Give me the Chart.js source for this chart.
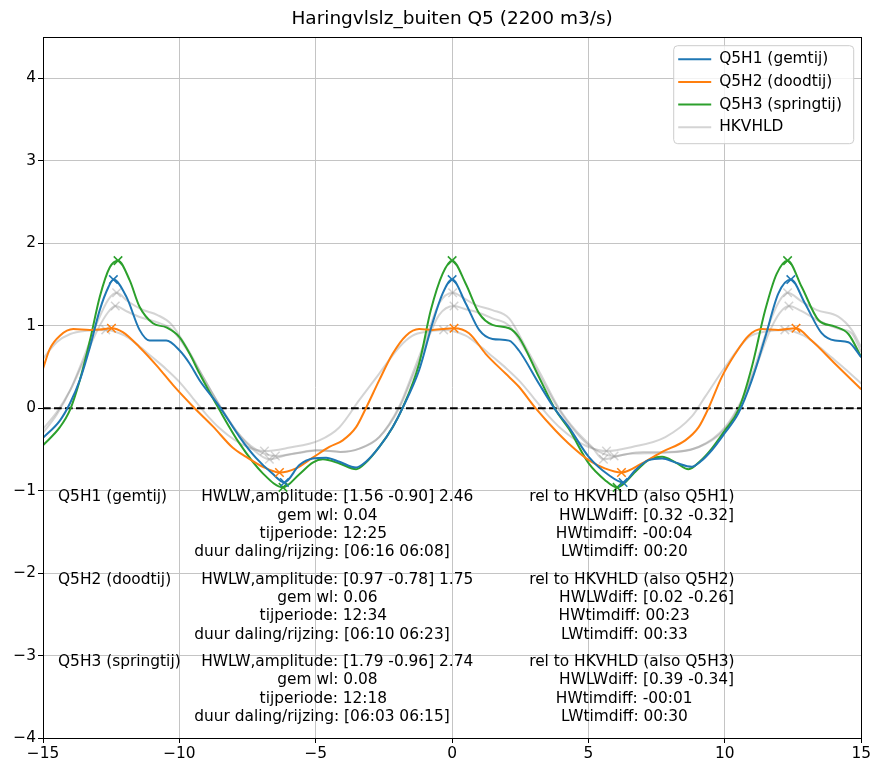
<!DOCTYPE html>
<html>
<head>
<meta charset="utf-8">
<title>Haringvlslz_buiten Q5</title>
<script src="https://cdn.jsdelivr.net/npm/chart.js@4.4.1/dist/chart.umd.min.js"></script>
<style>
  html, body { margin: 0; padding: 0; background: #fff; }
  canvas { display: block; }
</style>
</head>
<body>
<canvas id="tide-chart" width="873" height="765"></canvas>
<script>
// axes
const xTicks = [-15, -10, -5, 0, 5, 10, 15];
const yTicks = [-4, -3, -2, -1, 0, 1, 2, 3, 4];
const yTop = 4.5;

// time in hours relative to HW, water level in m
const timeQ5H1 = [-15, -14.38, -14.01, -13.65, -13.28, -12.92, -12.6, -12.42, -11.94, -11.46, -11.09, -10.48, -9.99, -9.62, -9.26, -8.53, -7.79, -7.2, -6.6, -6.15, -5.6, -5.11, -4.62, -4.13, -3.52, -3.16, -2.67, -2.18, -1.82, -1.21, -0.72, -0.35, 0, 0.5, 0.99, 1.48, 2.09, 2.45, 3.18, 3.79, 4.28, 5.01, 5.74, 6.27, 6.72, 7.2, 7.7, 8.2, 8.79, 9.1, 9.52, 10.0, 10.5, 10.99, 11.48, 11.96, 12.42, 12.94, 13.55, 14.04, 14.53, 15];
const wlQ5H1 = [-0.36, -0.15, 0.06, 0.34, 0.74, 1.19, 1.47, 1.56, 1.35, 0.95, 0.82, 0.82, 0.70, 0.54, 0.34, 0.02, -0.35, -0.60, -0.79, -0.90, -0.69, -0.61, -0.60, -0.65, -0.72, -0.65, -0.47, -0.23, 0.0, 0.46, 1.03, 1.39, 1.56, 1.27, 0.95, 0.84, 0.82, 0.70, 0.30, -0.02, -0.23, -0.59, -0.81, -0.90, -0.75, -0.63, -0.61, -0.66, -0.71, -0.65, -0.51, -0.30, -0.06, 0.34, 0.86, 1.39, 1.56, 1.27, 0.91, 0.82, 0.80, 0.62];

const timeQ5H2 = [-15, -14.75, -14.38, -13.89, -13.28, -12.92, -12.49, -12.06, -11.46, -10.84, -10.23, -9.44, -8.77, -8.04, -7.55, -6.94, -6.33, -5.72, -5.11, -4.5, -4.01, -3.52, -3.16, -2.67, -2.18, -1.69, -1.21, -0.72, 0.07, 0.62, 1.23, 1.96, 2.45, 3.06, 3.79, 4.28, 5.01, 5.6, 6.21, 6.96, 7.7, 8.55, 9.04, 9.4, 9.89, 10.38, 10.87, 11.35, 11.96, 12.61, 13.18, 14.04, 15];
const wlQ5H2 = [0.48, 0.72, 0.88, 0.96, 0.95, 0.955, 0.97, 0.92, 0.74, 0.52, 0.28, 0.0, -0.22, -0.48, -0.59, -0.71, -0.78, -0.73, -0.60, -0.47, -0.39, -0.23, 0.0, 0.34, 0.66, 0.88, 0.96, 0.95, 0.97, 0.91, 0.66, 0.42, 0.26, 0.0, -0.27, -0.43, -0.63, -0.73, -0.78, -0.67, -0.53, -0.39, -0.23, 0.0, 0.38, 0.66, 0.88, 0.96, 0.95, 0.97, 0.82, 0.54, 0.23];

const timeQ5H3 = [-15, -14.38, -14.01, -13.65, -13.28, -12.92, -12.55, -12.25, -11.82, -11.46, -10.97, -10.48, -9.99, -9.62, -9.26, -8.53, -7.79, -6.94, -6.2, -5.6, -5.11, -4.74, -4.13, -3.52, -3.16, -2.67, -2.18, -1.82, -1.21, -0.78, -0.35, 0, 0.5, 0.99, 1.48, 2.09, 2.45, 3.18, 3.79, 4.28, 5.01, 5.6, 6.05, 6.72, 7.2, 7.7, 8.2, 8.67, 9.1, 9.52, 10.0, 10.5, 10.99, 11.48, 11.9, 12.3, 12.82, 13.43, 14.04, 14.53, 15];
const wlQ5H3 = [-0.45, -0.23, -0.02, 0.34, 0.82, 1.35, 1.71, 1.79, 1.55, 1.23, 1.03, 0.98, 0.86, 0.66, 0.42, -0.02, -0.43, -0.79, -0.96, -0.80, -0.66, -0.62, -0.67, -0.74, -0.66, -0.47, -0.23, 0.0, 0.54, 1.19, 1.63, 1.79, 1.51, 1.15, 1.01, 0.97, 0.86, 0.38, -0.02, -0.25, -0.67, -0.87, -0.96, -0.77, -0.63, -0.59, -0.66, -0.74, -0.64, -0.49, -0.27, -0.02, 0.50, 1.19, 1.63, 1.79, 1.47, 1.07, 0.99, 0.90, 0.62];

// HKVHLD, one curve per tide
const timeRefH1 = [-15, -14.5, -14.0, -13.5, -13.0, -12.6, -12.35, -11.9, -11.4, -10.8, -10.3, -9.7, -9.1, -8.5, -7.9, -7.2, -6.48, -5.8, -5.0, -4.1, -3.4, -2.67, -1.94, -1.45, -0.96, -0.48, 0.07, 0.5, 0.87, 1.48, 2.09, 2.7, 3.3, 3.92, 4.53, 5.13, 5.94, 6.6, 7.82, 9.04, 10.01, 10.62, 11.1, 11.6, 12.0, 12.35, 12.8, 13.38, 14.2, 14.65, 15];
const wlRefH1 = [-0.25, -0.05, 0.22, 0.58, 0.95, 1.17, 1.24, 1.17, 1.10, 1.04, 0.96, 0.70, 0.36, 0.02, -0.28, -0.50, -0.58, -0.55, -0.51, -0.53, -0.49, -0.35, 0.0, 0.38, 0.78, 1.13, 1.24, 1.20, 1.17, 1.09, 1.00, 0.70, 0.34, -0.02, -0.29, -0.48, -0.58, -0.55, -0.54, -0.47, -0.25, 0.08, 0.46, 0.90, 1.15, 1.24, 1.18, 1.07, 0.96, 0.91, 0.68];

const timeRefH2 = [-15, -14.5, -14.0, -13.4, -12.7, -12.0, -11.5, -11.0, -10.5, -10.0, -9.5, -9.0, -8.5, -8.0, -7.5, -6.88, -6.0, -4.87, -4.13, -3.4, -2.67, -1.94, -1.45, -0.9, -0.31, 0.5, 1.0, 1.5, 2.0, 2.5, 3.0, 3.5, 4.0, 4.5, 5.0, 5.66, 6.6, 7.82, 8.79, 9.28, 10.01, 10.87, 11.5, 12.2, 12.9, 13.4, 13.9, 14.4, 15];
const wlRefH2 = [0.60, 0.80, 0.90, 0.94, 0.95, 0.88, 0.76, 0.62, 0.48, 0.32, 0.12, -0.08, -0.25, -0.38, -0.47, -0.52, -0.48, -0.39, -0.23, 0.10, 0.42, 0.74, 0.88, 0.93, 0.95, 0.88, 0.76, 0.62, 0.48, 0.32, 0.12, -0.08, -0.25, -0.38, -0.47, -0.52, -0.47, -0.35, -0.10, 0.14, 0.50, 0.86, 0.93, 0.95, 0.88, 0.76, 0.62, 0.48, 0.30];

const timeRefH3 = [-15, -14.5, -14.0, -13.5, -13.0, -12.6, -12.3, -11.9, -11.4, -10.8, -10.3, -9.7, -9.1, -8.5, -7.9, -7.3, -6.7, -6.1, -5.4, -4.8, -4.1, -3.4, -2.67, -1.94, -1.45, -0.96, -0.48, 0.02, 0.5, 0.87, 1.48, 2.09, 2.7, 3.3, 3.92, 4.53, 5.13, 5.55, 6.2, 7.0, 7.82, 9.04, 10.01, 10.62, 11.1, 11.6, 12.0, 12.3, 12.8, 13.38, 14.16, 14.65, 15];
const wlRefH3 = [-0.30, -0.08, 0.22, 0.62, 1.05, 1.32, 1.40, 1.30, 1.20, 1.13, 1.02, 0.72, 0.36, 0.02, -0.28, -0.50, -0.62, -0.57, -0.53, -0.51, -0.53, -0.49, -0.35, 0.02, 0.42, 0.84, 1.27, 1.40, 1.32, 1.25, 1.19, 1.09, 0.74, 0.38, 0.0, -0.27, -0.47, -0.62, -0.57, -0.53, -0.53, -0.47, -0.23, 0.10, 0.50, 1.00, 1.30, 1.40, 1.30, 1.19, 1.11, 0.95, 0.74];

// tide statistics (Q5H1, Q5H2, Q5H3)
const tideNames = ['Q5H1 (gemtij)', 'Q5H2 (doodtij)', 'Q5H3 (springtij)'];
const hwLevel = [1.56, 0.97, 1.79];
const lwLevel = [-0.90, -0.78, -0.96];
const amplitude = [2.46, 1.75, 2.74];
const meanLevel = [0.04, 0.06, 0.08];
const tidePeriod = ['12:25', '12:34', '12:18'];
const fallDuration = ['06:16', '06:10', '06:03'];
const riseDuration = ['06:08', '06:23', '06:15'];
const hwTimes = [[-12.42, 0, 12.42], [-12.49, 0.07, 12.61], [-12.25, 0, 12.3]];
const lwTimes = [[-6.15, 6.27], [-6.33, 6.21], [-6.2, 6.05]];

// differences relative to HKVHLD
const hwDiff = [0.32, 0.02, 0.39];
const lwDiff = [-0.32, -0.26, -0.34];
const hwTimeDiff = ['-00:04', '00:23', '-00:01'];
const lwTimeDiff = ['00:20', '00:33', '00:30'];
const refHwTimes = [[-12.35, 0.07, 12.35], [-12.7, -0.31, 12.2], [-12.3, 0.02, 12.3]];
const refLwTimes = [[-6.48, 5.94], [-6.88, 5.66], [-6.7, 5.55]];

const tideColors = ['#1f77b4', '#ff7f0e', '#2ca02c'];
const refColor = 'rgba(128, 128, 128, 0.34)';
const gridColor = '#c4c4c4';

const FONT = '"DejaVu Sans", sans-serif';
const FONT_SIZE = 15.4;
Chart.defaults.font.family = FONT;
Chart.defaults.font.size = FONT_SIZE;
Chart.defaults.color = '#000';

const fmtTick = v => String(v).replace('-', '\u2212');
const round2 = v => Math.round(v * 100) / 100;

function curve(label, times, levels, color, order, inLegend) {
    return {
        label: label,
        data: times.map((t, i) => ({ x: t, y: levels[i] })),
        showLine: true,
        borderColor: color,
        borderWidth: 2,
        pointRadius: 0,
        cubicInterpolationMode: 'monotone',
        order: order,
        inLegend: inLegend
    };
}

function extremes(hwT, lwT, hw, lw, color, order) {
    const pts = hwT.map(t => ({ x: t, y: hw })).concat(lwT.map(t => ({ x: t, y: lw })));
    return {
        label: '',
        data: pts,
        showLine: false,
        pointStyle: 'crossRot',
        pointRadius: 6,
        pointBorderColor: color,
        pointBackgroundColor: color,
        pointBorderWidth: 1.5,
        order: order,
        inLegend: false
    };
}

const tideTimes = [timeQ5H1, timeQ5H2, timeQ5H3];
const tideLevels = [wlQ5H1, wlQ5H2, wlQ5H3];
const refTimes = [timeRefH1, timeRefH2, timeRefH3];
const refLevels = [wlRefH1, wlRefH2, wlRefH3];

const datasets = [];
tideNames.forEach((name, i) => {
    datasets.push(curve(name, tideTimes[i], tideLevels[i], tideColors[i], 2, true));
    datasets.push(extremes(hwTimes[i], lwTimes[i], hwLevel[i], lwLevel[i], tideColors[i], 1));
});
tideNames.forEach((name, i) => {
    datasets.push(curve('HKVHLD', refTimes[i], refLevels[i], refColor, 5, i === 0));
    datasets.push(extremes(refHwTimes[i], refLwTimes[i],
        round2(hwLevel[i] - hwDiff[i]), round2(lwLevel[i] - lwDiff[i]), refColor, 4));
});
// zero reference
datasets.push({
    label: '',
    data: [{ x: xTicks[0], y: 0 }, { x: xTicks[xTicks.length - 1], y: 0 }],
    showLine: true,
    borderColor: '#000',
    borderWidth: 2,
    borderDash: [7.7, 3.3],
    pointRadius: 0,
    order: 3,
    inLegend: false
});

// text block positions (data units) and line spacing (px)
const blockLevel = [-1.08, -2.08, -3.08];
const labelX = -14.45;
const statsX = [-4.21, -4.57, -4.72, -4.77];
const relX = [6.59, 7.13, 6.31, 6.32];
const lineStep = 18.3;

function statLines(i) {
    return [
        `HWLW,amplitude: [${hwLevel[i].toFixed(2)} ${lwLevel[i].toFixed(2)}] ${amplitude[i].toFixed(2)}`,
        `gem wl: ${meanLevel[i].toFixed(2)}`,
        `tijperiode: ${tidePeriod[i]}`,
        `duur daling/rijzing: [${fallDuration[i]} ${riseDuration[i]}]`
    ];
}

function relLines(i) {
    return [
        `rel to HKVHLD (also ${tideNames[i].split(' ')[0]})`,
        `HWLWdiff: [${hwDiff[i].toFixed(2)} ${lwDiff[i].toFixed(2)}]`,
        `HWtimdiff: ${hwTimeDiff[i]}`,
        `LWtimdiff: ${lwTimeDiff[i]}`
    ];
}

const tidePlugin = {
    id: 'tideExtras',
    afterDatasetsDraw(chart) {
        const { ctx, chartArea: a, scales: { x, y } } = chart;
        ctx.save();
        ctx.font = `${FONT_SIZE}px ${FONT}`;
        ctx.fillStyle = '#000';
        ctx.textBaseline = 'middle';
        tideNames.forEach((name, i) => {
            const top = y.getPixelForValue(blockLevel[i]);
            ctx.textAlign = 'left';
            ctx.fillText(name, x.getPixelForValue(labelX), top);
            ctx.textAlign = 'center';
            statLines(i).forEach((s, k) => ctx.fillText(s, x.getPixelForValue(statsX[k]), top + k * lineStep));
            relLines(i).forEach((s, k) => ctx.fillText(s, x.getPixelForValue(relX[k]), top + k * lineStep));
        });
        // frame on all four sides
        ctx.strokeStyle = '#000';
        ctx.lineWidth = 1;
        const l = Math.round(a.left - 0.5) + 0.5, r = Math.round(a.right - 0.5) + 0.5;
        const t = Math.round(a.top - 0.5) + 0.5, b = Math.round(a.bottom - 0.5) + 0.5;
        ctx.strokeRect(l, t, r - l, b - t);
        ctx.restore();
    },
    afterDraw(chart) {
        const { ctx, chartArea: a } = chart;
        const items = chart.data.datasets.filter(d => d.inLegend);
        const w = 180, h = 98;
        const x0 = a.right - 8 - w, y0 = a.top + 8;
        ctx.save();
        ctx.beginPath();
        ctx.roundRect(x0 + 0.5, y0 + 0.5, w, h, 4);
        ctx.fillStyle = 'rgba(255, 255, 255, 0.8)';
        ctx.fill();
        ctx.strokeStyle = '#cccccc';
        ctx.lineWidth = 1;
        ctx.stroke();
        ctx.font = `${FONT_SIZE}px ${FONT}`;
        ctx.textAlign = 'left';
        ctx.textBaseline = 'middle';
        items.forEach((d, i) => {
            const cy = y0 + 14 + i * 22.7;
            ctx.strokeStyle = d.borderColor;
            ctx.lineWidth = 2;
            ctx.beginPath();
            ctx.moveTo(x0 + 5, cy);
            ctx.lineTo(x0 + 38, cy);
            ctx.stroke();
            ctx.fillStyle = '#000';
            ctx.fillText(d.label, x0 + 46, cy);
        });
        ctx.restore();
    }
};

const axisGrid = { color: gridColor, lineWidth: 1, tickLength: 5, tickColor: '#000', tickWidth: 1 };

new Chart(document.getElementById('tide-chart'), {
    type: 'scatter',
    data: { datasets: datasets },
    options: {
        responsive: false,
        animation: false,
        events: [],
        devicePixelRatio: 1,
        layout: { padding: { left: 0, right: 10, top: 0, bottom: 0 } },
        plugins: {
            legend: { display: false },
            tooltip: { enabled: false },
            title: {
                display: true,
                text: 'Haringvlslz_buiten Q5 (2200 m3/s)',
                font: { size: 18.5, weight: 'normal' },
                color: '#000',
                fullSize: false,
                padding: { top: 8, bottom: 7 }
            }
        },
        scales: {
            x: {
                type: 'linear',
                min: xTicks[0],
                max: xTicks[xTicks.length - 1],
                afterBuildTicks: s => { s.ticks = xTicks.map(v => ({ value: v })); },
                afterFit: s => { s.height = 27; },
                grid: axisGrid,
                border: { display: true, color: '#000', width: 1 },
                ticks: { padding: 2, maxRotation: 0, autoSkip: false, callback: fmtTick }
            },
            y: {
                type: 'linear',
                min: yTicks[0],
                max: yTop,
                afterBuildTicks: s => { s.ticks = yTicks.map(v => ({ value: v })); },
                afterFit: s => { s.width = 43; },
                grid: axisGrid,
                border: { display: true, color: '#000', width: 1 },
                ticks: { padding: 2, autoSkip: false, callback: fmtTick }
            }
        }
    },
    plugins: [tidePlugin]
});
</script>
</body>
</html>
